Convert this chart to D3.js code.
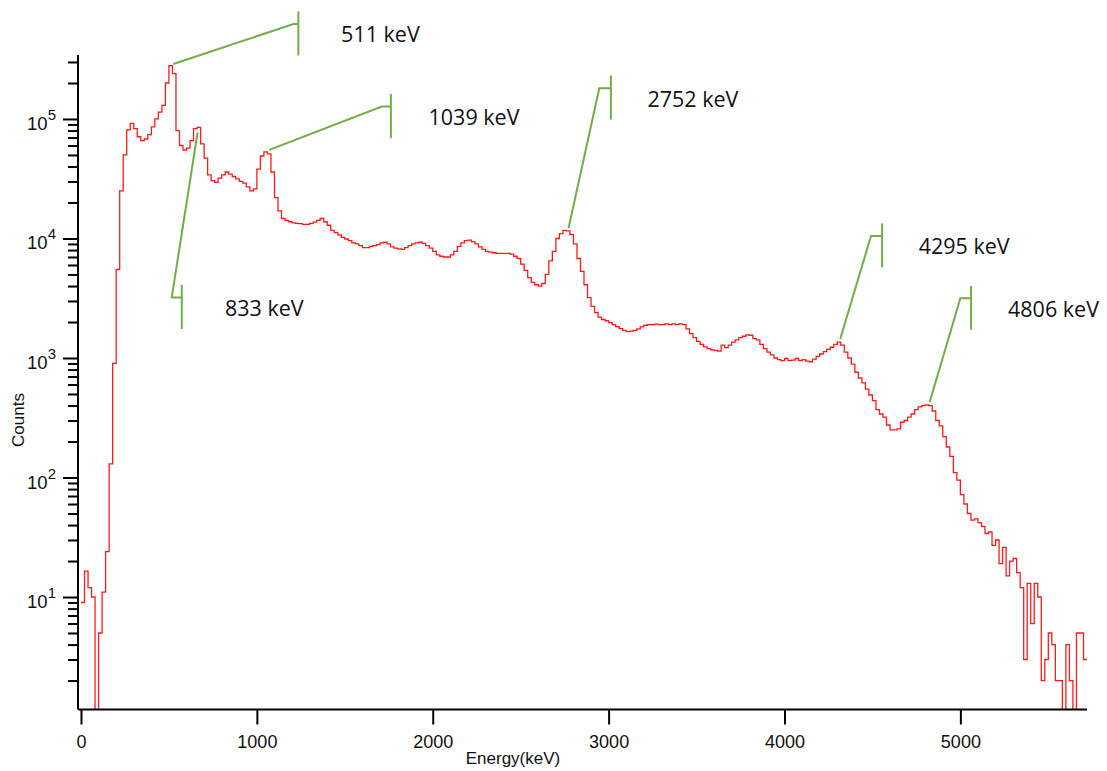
<html>
<head>
    <meta charset="utf-8">
    <title>Spectrum</title>
    <script src="https://cdn.jsdelivr.net/npm/d3@7"></script>
    <style>
        body { margin: 0; background: #fff; }
    </style>
</head>
<body>
    <svg id="chart"></svg>
    <script>
        // spectrum, 20 keV bins starting at 0 keV
        const binWidth = 20;
        const counts = [
            9, 16.5, 12, 10, 0, 5, 11, 24, 130, 900,
            5500, 25000, 50000, 81000, 92000, 83000, 71000, 66000, 68000, 74000,
            86000, 100000, 114000, 130000, 200000, 280000, 240000, 80000, 60000, 55000,
            57000, 66000, 83000, 85000, 62000, 47000, 34000, 30500, 29500, 32000,
            34000, 36000, 34500, 33000, 31500, 30000, 29000, 27000, 25000, 26000,
            38000, 49000, 53000, 51000, 36000, 22000, 17000, 14700, 14200, 13800,
            13500, 13400, 13300, 13100, 13100, 13400, 13700, 14200, 14700, 13800,
            12900, 11700, 11200, 10700, 10200, 9900, 9600, 9200, 9000, 8700,
            8400, 8400, 8600, 8700, 8900, 9200, 9300, 9000, 8500, 8300,
            8200, 8100, 8400, 8700, 9000, 9200, 9300, 9100, 8700, 8300,
            7800, 7300, 7100, 7000, 7000, 7300, 7800, 8600, 9200, 9600,
            9700, 9400, 9000, 8500, 8100, 7800, 7700, 7600, 7500, 7500,
            7500, 7500, 7400, 7100, 6800, 6100, 5400, 4700, 4300, 4100,
            4000, 4200, 5000, 6500, 7800, 10000, 11000, 11700, 11600, 10800,
            9000, 6800, 5300, 4100, 3200, 2700, 2400, 2200, 2100, 2050,
            1980, 1900, 1830, 1760, 1700, 1660, 1680, 1700, 1750, 1820,
            1880, 1900, 1900, 1920, 1900, 1900, 1930, 1900, 1930, 1900,
            1930, 1900, 1750, 1600, 1480, 1380, 1300, 1240, 1200, 1170,
            1160, 1140, 1280, 1220, 1280, 1360, 1420, 1480, 1520, 1560,
            1550, 1450, 1420, 1300, 1200, 1120, 1060, 1000, 970, 950,
            990, 950, 960, 990, 950, 970, 940, 930, 980, 1030,
            1080, 1130, 1180, 1230, 1300, 1360, 1280, 1120, 1000, 890,
            760, 680, 620, 550, 490, 440, 370, 340, 320, 275,
            250, 250, 255, 290, 300, 320, 340, 370, 390, 400,
            405, 400, 360, 300, 270, 220, 180, 150, 110, 95,
            72, 60, 50, 44, 45, 42, 39, 34, 35, 27,
            30, 19, 26, 15, 20, 21, 16, 12, 3, 13,
            6, 13, 10, 2, 3, 5, 4, 2, 2, 0,
            4, 2, 0, 5, 5, 3
        ];

        const xTicks = [0, 1000, 2000, 3000, 4000, 5000];
        const yMajor = [10, 100, 1000, 10000, 100000];

        // peak callouts: where the leader touches the spectrum, the elbow, the bar, the label
        const peakLabels = ['511 keV', '833 keV', '1039 keV', '2752 keV', '4295 keV', '4806 keV'];
        const anchorE = [525, 663, 1071, 2772, 4317, 4825];
        const anchorC = [288000, 77100, 55100, 12200, 1440, 426];
        const elbowE = [1208, 516, 1710, 2947, 4492, 5000];
        const elbowC = [624000, 3210, 127000, 181000, 10500, 3160];
        const barE = [1236, 573, 1762, 3013, 4555, 5061];
        const labelE = [1479, 819, 1976, 3221, 4763, 5271];

        const W = 1107, H = 771;
        const svg = d3.select('#chart')
            .attr('width', W)
            .attr('height', H);

        const x = d3.scaleLinear()
            .domain([-17, 5720])
            .range([78, 1087]);
        const y = d3.scaleLog()
            .domain([1.145, 343000])
            .range([709.5, 55]);

        // clip for the spectrum
        svg.append('clipPath').attr('id', 'plotclip')
            .append('rect')
            .attr('x', 78).attr('y', 55)
            .attr('width', 1087 - 78).attr('height', 709.5 - 55);

        const pts = counts.map((c, i) => [i * binWidth, c]);
        pts.push([counts.length * binWidth, counts[counts.length - 1]]);

        const line = d3.line()
            .x(d => x(d[0]))
            .y(d => y(Math.max(d[1], 0.3)))
            .curve(d3.curveStepAfter);

        svg.append('path')
            .attr('d', line(pts))
            .attr('clip-path', 'url(#plotclip)')
            .attr('fill', 'none')
            .attr('stroke', '#ff1a1a')
            .attr('stroke-width', 1.3);

        // x axis
        const xAxis = d3.axisBottom(x).tickValues(xTicks).tickFormat(d3.format('d'))
            .tickSize(15).tickSizeOuter(0).tickPadding(11);
        const gx = svg.append('g')
            .attr('transform', 'translate(0,709.5)')
            .call(xAxis);
        gx.select('.domain').attr('d', 'M78,0H1087').attr('stroke-width', 2);
        gx.selectAll('.tick line').attr('stroke-width', 2);
        gx.selectAll('.tick text')
            .attr('font-family', 'Liberation Sans, Arial, sans-serif')
            .attr('font-size', 18)
            .attr('fill', '#111');

        // y axis, log ticks: long ticks for decades, short ones between
        const yTicks = y.ticks().filter(t => t >= 2);
        const yAxis = d3.axisLeft(y).tickValues(yTicks).tickFormat('').tickSizeOuter(0);
        const gy = svg.append('g')
            .attr('transform', 'translate(78,0)')
            .call(yAxis);
        gy.select('.domain').attr('d', 'M0,55V709.5').attr('stroke-width', 2);
        gy.selectAll('.tick line')
            .attr('x2', d => yMajor.includes(d) ? -15 : -10)
            .attr('stroke-width', 2);

        const yLab = svg.append('g')
            .attr('font-family', 'Liberation Sans, Arial, sans-serif')
            .attr('fill', '#111')
            .selectAll('text')
            .data(yMajor)
            .join('text')
            .attr('x', 56)
            .attr('y', d => y(d) + 11)
            .attr('text-anchor', 'end')
            .attr('font-size', 18.5);
        yLab.append('tspan').text('10');
        yLab.append('tspan')
            .attr('dy', -10)
            .attr('font-size', 15)
            .text(d => Math.round(Math.log10(d)));

        // axis titles
        svg.append('text')
            .attr('x', 513).attr('y', 764)
            .attr('text-anchor', 'middle')
            .attr('font-family', 'Liberation Sans, Arial, sans-serif')
            .attr('font-size', 17)
            .attr('fill', '#111')
            .text('Energy(keV)');
        svg.append('text')
            .attr('transform', 'translate(24,420) rotate(-90)')
            .attr('text-anchor', 'middle')
            .attr('font-family', 'Liberation Sans, Arial, sans-serif')
            .attr('font-size', 17)
            .attr('fill', '#111')
            .text('Counts');

        // callouts
        const green = '#70ad47';
        const ann = svg.append('g');
        peakLabels.forEach((lab, i) => {
            const ex = x(elbowE[i]), ey = y(elbowC[i]), bx = x(barE[i]);
            ann.append('path')
                .attr('d', 'M' + x(anchorE[i]) + ',' + y(anchorC[i]) + 'L' + ex + ',' + ey + 'H' + bx)
                .attr('fill', 'none')
                .attr('stroke', green)
                .attr('stroke-width', 2);
            ann.append('line')
                .attr('x1', bx).attr('x2', bx)
                .attr('y1', ey - 12.5).attr('y2', ey + 31.5)
                .attr('stroke', green)
                .attr('stroke-width', 2);
            ann.append('text')
                .attr('x', x(labelE[i]))
                .attr('y', ey + 11)
                .attr('dy', '0.35em')
                .attr('font-family', 'Open Sans, sans-serif')
                .attr('font-size', 21.5)
                .attr('fill', '#111')
                .text(lab);
        });
    </script>
</body>
</html>
